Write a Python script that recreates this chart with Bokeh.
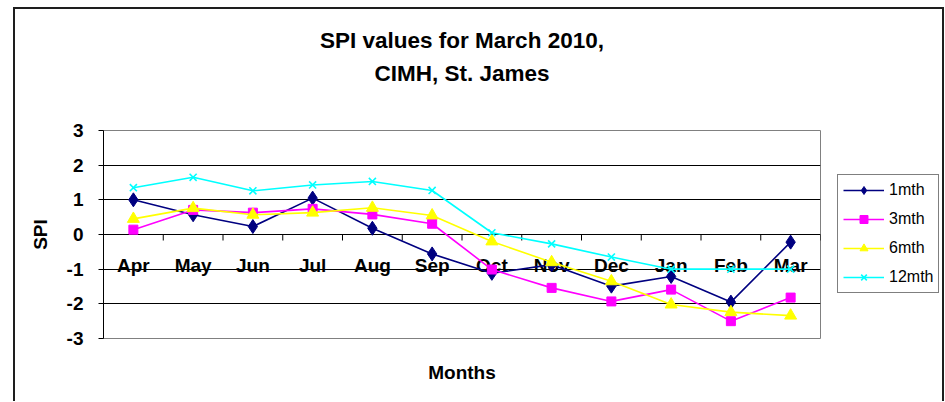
from bokeh.plotting import figure
from bokeh.layouts import row
from bokeh.models import Range1d, LinearAxis, FixedTicker, Legend, LegendItem
from bokeh.core.properties import value
from bokeh.embed import file_html
from bokeh.resources import INLINE

# ---- data ----
months = ["Apr", "May", "Jun", "Jul", "Aug", "Sep", "Oct", "Nov", "Dec", "Jan", "Feb", "Mar"]
spi_1mth = [1.00, 0.57, 0.23, 1.05, 0.18, -0.56, -1.12, -0.87, -1.49, -1.21, -1.95, -0.22]
spi_3mth = [0.14, 0.71, 0.63, 0.74, 0.58, 0.31, -1.01, -1.54, -1.93, -1.59, -2.50, -1.82]
spi_6mth = [0.45, 0.76, 0.57, 0.63, 0.77, 0.55, -0.20, -0.80, -1.35, -2.02, -2.24, -2.34]
spi_12mth = [1.35, 1.65, 1.26, 1.43, 1.53, 1.27, 0.05, -0.27, -0.65, -1.00, -1.00, -1.00]
series_names = ["1mth", "3mth", "6mth", "12mth"]
y_ticks = [-3, -2, -1, 0, 1, 2, 3]
title_lines = ["SPI values for March 2010,", "CIMH, St. James"]
x_title = "Months"
y_title = "SPI"

FONT = "Liberation Sans"

H = 392                       # height of both canvases
MW, LW = 810, 117             # main chart width, legend strip width
BL, BR, BT, BB = 88, 5, 121, 63   # borders around the plot area of the main chart (px)
n = len(months)
x_centers = [i + 0.5 for i in range(n)]
x_bounds = list(range(n + 1))

p = figure(width=MW, height=H, x_range=Range1d(0, n), y_range=Range1d(y_ticks[0], y_ticks[-1]),
           output_backend="svg", toolbar_location=None, x_axis_type=None,
           min_border_left=BL, min_border_right=BR, min_border_top=BT, min_border_bottom=BB,
           background_fill_color="white", border_fill_color="white")
p.outline_line_color = "#808080"
p.outline_line_width = 1

# y axis
p.yaxis.ticker = FixedTicker(ticks=y_ticks)
p.yaxis.major_label_overrides = {t: str(t) for t in y_ticks}
p.yaxis.major_tick_out = 5
p.yaxis.major_tick_in = 0
p.yaxis.minor_tick_line_color = None
p.yaxis.axis_line_color = "black"
p.yaxis.major_tick_line_color = "black"
p.yaxis.major_label_text_font = FONT
p.yaxis.major_label_text_font_style = "bold"
p.yaxis.major_label_text_font_size = "19px"
p.yaxis.major_label_text_color = "black"
p.yaxis.major_label_standoff = 15
p.yaxis.axis_label = y_title
p.yaxis.axis_label_text_font = FONT
p.yaxis.axis_label_text_font_style = "bold"
p.yaxis.axis_label_text_font_size = "19px"
p.yaxis.axis_label_text_color = "black"
p.yaxis.axis_label_standoff = 13

# horizontal gridlines (the one at 0 doubles as the category axis line)
p.ygrid.ticker = FixedTicker(ticks=y_ticks[1:-1])
p.ygrid.grid_line_color = "black"
p.ygrid.grid_line_width = 1
p.xgrid.visible = False


def label_axis(text, size, standoff):
    """An axis that shows only its label (used for titles)."""
    return LinearAxis(ticker=FixedTicker(ticks=[]), axis_line_color=None,
                      major_tick_line_color=None, minor_tick_line_color=None,
                      major_tick_out=0, major_tick_in=0, minor_tick_out=0, minor_tick_in=0,
                      major_label_standoff=0, major_label_text_font_size="1px",
                      major_label_text_color=None,
                      axis_label=text, axis_label_standoff=standoff,
                      axis_label_text_font=FONT, axis_label_text_font_style="bold",
                      axis_label_text_font_size=size, axis_label_text_color="black")


p.add_layout(label_axis(x_title, "19px", 23), "below")
p.add_layout(label_axis(title_lines[1], "22.5px", 45), "above")
p.add_layout(label_axis(title_lines[0], "22.5px", 5), "above")

# tick marks between the categories, hanging 6 px below the y = 0 line
units_per_px = (y_ticks[-1] - y_ticks[0]) / (H - BT - BB)
tick_len = 6 * units_per_px
p.segment(x0=x_bounds, y0=[0] * (n + 1), x1=x_bounds, y1=[-tick_len] * (n + 1),
          line_color="black", line_width=1)

# category labels just below the y = 0 line
p.text(x=x_centers, y=[0] * n, text=months, y_offset=31, text_align="center",
       text_baseline="middle", text_font=value(FONT), text_font_style="bold",
       text_font_size="19px", text_color="black")

colors = ["#000080", "#FF00FF", "#FFFF00", "#00FFFF"]
markers = ["diamond", "square", "triangle", "x"]
sizes = [14, 9, 12, 10]
all_series = [spi_1mth, spi_3mth, spi_6mth, spi_12mth]


def draw_series(fig):
    rends = []
    for vals, c, m, s in zip(all_series, colors, markers, sizes):
        ln = fig.line(x_centers, vals, line_color=c, line_width=1.6)
        if m == "x":
            sc = fig.scatter(x_centers, vals, marker=m, size=s, line_color=c, line_width=1.6)
        else:
            sc = fig.scatter(x_centers, vals, marker=m, size=s, fill_color=c, line_color=c)
        rends.append([ln, sc])
    return rends


draw_series(p)

# legend strip to the right of the chart (its series lie outside its view range)
lf = figure(width=LW, height=H, x_range=Range1d(0, n),
            y_range=Range1d(y_ticks[-1] + 1, y_ticks[-1] + 2),
            output_backend="svg", toolbar_location=None, x_axis_type=None, y_axis_type=None,
            min_border=0, min_border_left=0, min_border_right=0, min_border_top=0,
            min_border_bottom=0, background_fill_color="white", border_fill_color="white")
lf.outline_line_color = None
legend_rends = draw_series(lf)
items = [LegendItem(label=name, renderers=r) for name, r in zip(series_names, legend_rends)]
legend = Legend(items=items, location=(12, 45), border_line_color="black", border_line_width=1,
                padding=5, spacing=9, label_height=20, glyph_height=20, glyph_width=41,
                label_standoff=5, label_text_font=FONT, label_text_font_size="16px",
                label_text_color="black", background_fill_color="white", background_fill_alpha=1,
                margin=0)
lf.add_layout(legend, "center")

page = row(p, lf)
page.styles = {"margin-left": "13px", "margin-top": "7px",
               "border-left": "2px solid #1e1e1e", "border-top": "2px solid #1e1e1e",
               "border-right": "2px solid #1e1e1e"}

open("out.html", "w").write(file_html(page, INLINE))
